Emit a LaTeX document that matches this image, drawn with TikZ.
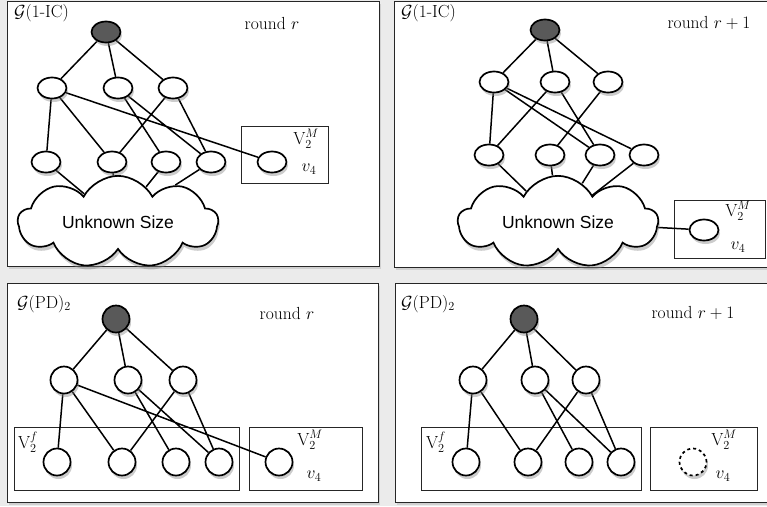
\RequirePackage{fix-cm}
\documentclass[tikz,border=0pt]{standalone}
\usepackage{fontspec}
\newfontfamily\helv{Liberation Sans}
\usetikzlibrary{shapes.geometric,shapes.symbols,shadows}
\pgfdeclarelayer{back}
\pgfdeclarelayer{edges}
\pgfsetlayers{back,edges,main}
\begin{document}
\begin{tikzpicture}[x=1pt,y=-1pt,
  every node/.style={font=\fontsize{17.5}{20}\selectfont},
  panel/.style={draw=black!85,line width=1.4pt,fill=white,
    drop shadow={shadow xshift=1pt,shadow yshift=-2pt,opacity=0.25}},
  subbox/.style={draw=black!85,line width=1.4pt,fill=white},
  enode/.style={ellipse,draw,line width=1.7pt,fill=white,minimum width=29pt,minimum height=21pt,inner sep=0pt,
    drop shadow={shadow xshift=1.5pt,shadow yshift=-3.5pt,opacity=0.4}},
  cnode/.style={circle,draw,line width=1.7pt,fill=white,minimum size=27pt,inner sep=0pt,
    drop shadow={shadow xshift=1.5pt,shadow yshift=-3.5pt,opacity=0.4}},
  eroot/.style={enode,fill=black!65},
  croot/.style={cnode,fill=black!65},
  ghost/.style={cnode,dashed,line width=1.7pt},
  blob/.style={cloud,draw,line width=1.7pt,fill=white,cloud puffs=9,cloud puff arc=125,aspect=2.5,
    minimum width=200pt,minimum height=78pt,inner sep=0pt,font=\helv\fontsize{17.5}{20}\selectfont,
    drop shadow={shadow xshift=1.5pt,shadow yshift=-4pt,opacity=0.4}},
  edge/.style={draw,line width=1.5pt},
  lbl/.style={inner sep=0pt}
]
\useasboundingbox (0,0) rectangle (767,506);
\begin{pgfonlayer}{back}
  \fill[black!8] (0,0) rectangle (767,506);
  \node[panel,minimum width=372pt,minimum height=265pt,inner sep=0pt,anchor=north west] (P1) at (7,1) {};
  \node[panel,minimum width=376pt,minimum height=266pt,inner sep=0pt,anchor=north west] (P2) at (394,1) {};
  \node[panel,minimum width=371pt,minimum height=219pt,inner sep=0pt,anchor=north west] (P3) at (7,283) {};
  \node[panel,minimum width=376pt,minimum height=219pt,inner sep=0pt,anchor=north west] (P4) at (395,283) {};
  % sub boxes
  \node[subbox,minimum width=87pt,minimum height=57pt,inner sep=0pt,anchor=north west] (M1) at (241,126) {};
  \node[subbox,minimum width=91pt,minimum height=58pt,inner sep=0pt,anchor=north west] (M2) at (674,200) {};
  \node[subbox,minimum width=225pt,minimum height=63pt,inner sep=0pt,anchor=north west] (F3) at (14,427) {};
  \node[subbox,minimum width=113pt,minimum height=63pt,inner sep=0pt,anchor=north west] (M3) at (249,427) {};
  \node[subbox,minimum width=220pt,minimum height=63pt,inner sep=0pt,anchor=north west] (F4) at (421,427) {};
  \node[subbox,minimum width=107pt,minimum height=63pt,inner sep=0pt,anchor=north west] (M4) at (650,427) {};
\end{pgfonlayer}

% ---------- Panel 1 ----------
\node[lbl,anchor=west] (t1) at (14,13) {$\mathcal{G}$(1-IC)};
\node[lbl] (r1) at (272,23) {round $r$};
\node[eroot] (a0) at (106,32) {};
\node[enode] (a1) at (52,88) {};
\node[enode] (a2) at (118,88) {};
\node[enode] (a3) at (173,88) {};
\node[enode] (a4) at (46,162) {};
\node[enode] (a5) at (112,162) {};
\node[enode] (a6) at (166,162) {};
\node[enode] (a7) at (211,162) {};
\node[enode] (a8) at (272,162) {};
\node[lbl] (am) at (306,139) {$\mathrm{V}_2^M$};
\node[lbl] (av) at (309,169) {$v_4$};
\node[blob] (ac) at (118,222) {Unknown Size};

% ---------- Panel 2 ----------
\node[lbl,anchor=west] (t2) at (401,13) {$\mathcal{G}$(1-IC)};
\node[lbl] (r2) at (709,23) {round $r+1$};
\node[eroot] (b0) at (545,30) {};
\node[enode] (b1) at (494,82) {};
\node[enode] (b2) at (555,82) {};
\node[enode] (b3) at (608,82) {};
\node[enode] (b4) at (489,155) {};
\node[enode] (b5) at (550,155) {};
\node[enode] (b6) at (600,155) {};
\node[enode] (b7) at (644,155) {};
\node[enode] (b8) at (704,230) {};
\node[lbl] (bm) at (738,211) {$\mathrm{V}_2^M$};
\node[lbl] (bv) at (738,247) {$v_4$};
\node[blob] (bc) at (558,222) {Unknown Size};

% ---------- Panel 3 ----------
\node[lbl,anchor=west] (t3) at (17,304) {$\mathcal{G}$(PD)$_2$};
\node[lbl] (r3) at (287,313) {round $r$};
\node[croot] (c0) at (116,319) {};
\node[cnode] (c1) at (64,380) {};
\node[cnode] (c2) at (128,380) {};
\node[cnode] (c3) at (183,380) {};
\node[cnode] (c4) at (57,462) {};
\node[cnode] (c5) at (122,462) {};
\node[cnode] (c6) at (176,462) {};
\node[cnode] (c7) at (219,462) {};
\node[cnode] (c8) at (279,462) {};
\node[lbl] (cf) at (28,442) {$\mathrm{V}_2^f$};
\node[lbl] (cm) at (310,440) {$\mathrm{V}_2^M$};
\node[lbl] (cv) at (314,476) {$v_4$};

% ---------- Panel 4 ----------
\node[lbl,anchor=west] (t4) at (401,304) {$\mathcal{G}$(PD)$_2$};
\node[lbl] (r4) at (693,313) {round $r+1$};
\node[croot] (d0) at (524,319) {};
\node[cnode] (d1) at (473,380) {};
\node[cnode] (d2) at (535,380) {};
\node[cnode] (d3) at (586,380) {};
\node[cnode] (d4) at (466,462) {};
\node[cnode] (d5) at (528,462) {};
\node[cnode] (d6) at (579,462) {};
\node[cnode] (d7) at (621,462) {};
\node[ghost] (d8) at (693,462) {};
\node[lbl] (df) at (436,442) {$\mathrm{V}_2^f$};
\node[lbl] (dm) at (724,440) {$\mathrm{V}_2^M$};
\node[lbl] (dv) at (723,476) {$v_4$};

\begin{pgfonlayer}{edges}
  % panel 1
  \draw[edge] (a0)--(a1) (a0)--(a2) (a0)--(a3)
    (a1)--(a4) (a1)--(a5) (a1)--(a8)
    (a2)--(a6) (a2)--(a7) (a3)--(a5) (a3)--(a7)
    (a4)--(ac) (a5)--(ac) (a6)--(ac) (a7)--(ac);
  % panel 2
  \draw[edge] (b0)--(b1) (b0)--(b2) (b0)--(b3)
    (b1)--(b4) (b1)--(b6) (b1)--(b7)
    (b2)--(b4) (b2)--(b6) (b3)--(b5)
    (b4)--(bc) (b5)--(bc) (b6)--(bc) (b7)--(bc) (bc)--(b8);
  % panel 3
  \draw[edge] (c0)--(c1) (c0)--(c2) (c0)--(c3)
    (c1)--(c4) (c1)--(c5) (c1)--(c8)
    (c2)--(c6) (c2)--(c7) (c3)--(c5) (c3)--(c7);
  % panel 4
  \draw[edge] (d0)--(d1) (d0)--(d2) (d0)--(d3)
    (d1)--(d4) (d1)--(d5)
    (d2)--(d6) (d2)--(d7) (d3)--(d5) (d3)--(d7);
\end{pgfonlayer}
\end{tikzpicture}
\end{document}
